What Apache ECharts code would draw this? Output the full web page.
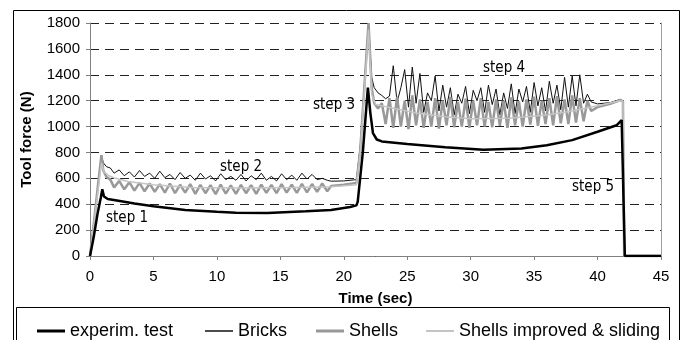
<!DOCTYPE html>
<html>
<head>
<meta charset="utf-8">
<script src="https://cdn.jsdelivr.net/npm/echarts@6/dist/echarts.min.js"></script>
<style>
  html, body { margin: 0; padding: 0; background: #fff; }
  #chart { width: 685px; height: 340px; }
</style>
</head>
<body>
<div id="chart"></div>
<script>
// experimental curve (thick black)
const expTime = [0, 0.3, 0.6, 0.85, 0.97, 1.1, 1.4, 2, 3.5, 5, 7.5, 10, 11.5, 14, 17, 19, 20.5, 21.0, 21.1, 21.5, 21.9, 22.1, 22.3, 22.6, 23, 25, 28, 31, 34, 36, 38, 40, 41.5, 41.9, 42.05, 42.15, 45]
const expForce = [0, 150, 330, 450, 515, 460, 440, 430, 405, 385, 355, 342, 335, 333, 345, 355, 378, 391, 420, 800, 1300, 1100, 950, 900, 885, 865, 840, 820, 830, 855, 895, 960, 1010, 1050, 1040, 0, 0]

// time points shared by "Bricks" and "Shells"
const oscTime = [0, 0.3, 0.6, 0.9, 1.05, 1.3, 1.6,
    1.9, 2.3, 2.7, 3.1, 3.5, 3.9, 4.3, 4.7, 5.1, 5.5, 5.9, 6.3, 6.7, 7.1, 7.5, 7.9, 8.3, 8.7, 9.1, 9.5,
    9.9, 10.3, 10.7, 11.1, 11.5, 11.9, 12.3, 12.7, 13.1, 13.5, 13.9, 14.3, 14.7, 15.1, 15.5, 15.9, 16.3, 16.7,
    17.1, 17.5, 17.9, 18.3, 18.7,
    19.0, 20.0, 21.0, 21.3, 21.95, 22.2, 22.4,
    22.7, 23.0, 23.3, 23.6, 23.9, 24.2, 24.5, 24.8, 25.1, 25.4, 25.7, 26.0, 26.3, 26.6, 26.9, 27.2, 27.5, 27.8,
    28.1, 28.4, 28.7, 29.0, 29.3, 29.6, 29.9, 30.2, 30.5, 30.8, 31.1, 31.4, 31.7, 32.0, 32.3, 32.6, 32.9, 33.2,
    33.5, 33.8, 34.1, 34.4, 34.7, 35.0, 35.3, 35.6, 35.9, 36.2, 36.5, 36.8, 37.1, 37.4, 37.7, 38.0, 38.3, 38.6,
    38.9, 39.2, 39.5,
    40.0, 41.0, 41.8, 42.0, 42.1, 45]

const bricksForce = [0, 250, 520, 780, 720, 690, 680,
    640, 665, 620, 650, 610, 660, 615, 640, 600, 655, 605, 630, 590, 645, 600, 625, 585, 640, 595, 620,
    580, 635, 590, 615, 585, 630, 580, 620, 590, 640, 585, 615, 580, 635, 590, 625, 585, 640,
    595, 630, 590, 600, 585,
    578, 580, 590, 850, 1800, 1380, 1300,
    1260, 1240, 1215, 1235, 1470, 1190, 1300, 1440, 1150, 1460, 1180, 1410, 1110, 1260, 1200, 1390, 1120, 1320,
    1150, 1300, 1090, 1250, 1180, 1310, 1100, 1280, 1200, 1300, 1110, 1320, 1170, 1290, 1090, 1260, 1140, 1330,
    1100, 1290, 1190, 1310, 1110, 1340, 1160, 1300, 1120, 1350, 1180, 1320, 1130, 1380, 1150, 1390, 1160, 1400,
    1180, 1250, 1190,
    1175, 1185, 1210, 1195, 0, 0]

const shellsForce = [0, 250, 520, 780, 660, 610, 590,
    530, 580, 515, 570, 505, 565, 500, 560, 495, 555, 490, 560, 485, 550, 490, 555, 480, 550, 485, 548,
    478, 552, 482, 545, 480, 550, 485, 548, 480, 552, 487, 550, 485, 555, 490, 552, 488, 558,
    492, 556, 495, 560, 500,
    540, 550, 565, 820, 1800, 1300, 1180,
    1140, 1180, 1020, 1220, 990, 1230, 1000, 1200, 980, 1240, 1010, 1210, 990, 1190, 1000, 1220, 985, 1200,
    1010, 1230, 995, 1190, 1000, 1215, 990, 1200, 1010, 1220, 1000, 1190, 995, 1210, 1005, 1200, 990, 1225,
    1010, 1195, 1000, 1210, 1015, 1230, 1005, 1200, 1020, 1220, 1010, 1235, 1025, 1210, 1020, 1240, 1030, 1220,
    1040, 1200, 1120,
    1150, 1175, 1205, 1195, 0, 0]

// shells improved & sliding (thin light gray)
const slidingTime = [0, 0.3, 0.6, 0.9, 1.1, 1.5, 2, 3, 5, 8, 12, 16, 19, 21, 21.3, 21.95, 22.2, 22.5, 24, 26, 28, 30, 33, 36, 38, 40, 41.8, 42.0, 42.1, 45]
const slidingForce = [0, 240, 480, 720, 650, 620, 600, 575, 550, 530, 525, 530, 535, 550, 800, 1750, 1250, 1170, 1140, 1100, 1075, 1060, 1065, 1090, 1120, 1160, 1200, 1195, 0, 0]

const seriesNames = ['experim. test', 'Bricks', 'Shells', 'Shells improved & sliding']
const stepLabels = ['step 1', 'step 2', 'step 3', 'step 4', 'step 5']
const xTicks = { min: 0, max: 45, interval: 5 }
const yTicks = { min: 0, max: 1800, interval: 200 }

function pairs(t, v) {
    return t.map((x, i) => [x, v[i]])
}

const chart = echarts.init(document.getElementById('chart'))

const stepFont = '15px "DejaVu Sans Condensed", "DejaVu Sans", sans-serif'
const stepPos = [[106, 221], [220, 170], [313, 108], [483, 71], [572, 190]]

const lineColors = ['#000', '#111', '#999', '#c4c4c4']
const lineWidths = [2.5, 1, 2.5, 1.5]
const legendLeft = [32, 200, 311, 421]
const legendIconH = [3, 1.5, 3, 2]

const legends = seriesNames.map((n, i) => ({
    left: legendLeft[i],
    top: 317,
    icon: 'rect',
    itemWidth: 28,
    itemHeight: legendIconH[i],
    textStyle: { fontSize: 18, color: '#000' },
    data: [n]
}))

chart.setOption({
    animation: false,
    backgroundColor: '#fff',
    textStyle: { fontFamily: '"Liberation Sans", Arial, sans-serif' },
    grid: { left: 90, right: 24, top: 23, bottom: 84 },
    xAxis: {
        type: 'value',
        min: xTicks.min,
        max: xTicks.max,
        interval: xTicks.interval,
        name: 'Time (sec)',
        nameLocation: 'middle',
        nameGap: 35,
        nameTextStyle: { fontWeight: 'bold', fontSize: 15, color: '#000' },
        axisLine: { show: true, lineStyle: { color: '#808080', width: 1 } },
        axisTick: { show: true, inside: false, length: 4, lineStyle: { color: '#808080' } },
        axisLabel: { fontSize: 15, color: '#000', margin: 13 },
        splitLine: { show: false }
    },
    yAxis: [{
        type: 'value',
        min: yTicks.min,
        max: yTicks.max,
        interval: yTicks.interval,
        name: 'Tool force (N)',
        nameLocation: 'middle',
        nameGap: 56,
        nameTextStyle: { fontWeight: 'bold', fontSize: 15, color: '#000' },
        axisLine: { show: true, lineStyle: { color: '#808080', width: 1 } },
        axisTick: { show: true, length: 4, lineStyle: { color: '#808080' } },
        axisLabel: { fontSize: 15, color: '#000', margin: 10, formatter: v => String(v) },
        splitLine: { show: true, lineStyle: { color: '#222', width: 1, type: [9, 6] } }
    }, {
        type: 'value',
        position: 'right',
        min: yTicks.min,
        max: yTicks.max,
        axisLine: { show: true, lineStyle: { color: '#a0a0a0', width: 1 } },
        axisTick: { show: false },
        axisLabel: { show: false },
        splitLine: { show: false }
    }],
    legend: legends,
    series: [
        { data: pairs(expTime, expForce), z: 5 },
        { data: pairs(oscTime, bricksForce), z: 2 },
        { data: pairs(oscTime, shellsForce), z: 3 },
        { data: pairs(slidingTime, slidingForce), z: 4 }
    ].map((s, i) => ({
        name: seriesNames[i],
        type: 'line',
        symbol: 'none',
        lineStyle: { color: lineColors[i], width: lineWidths[i] },
        itemStyle: { color: lineColors[i] },
        z: s.z,
        data: s.data
    })),
    graphic: [{
        type: 'rect',
        shape: { x: 13.5, y: 10.5, width: 666, height: 345 },
        style: { fill: 'none', stroke: '#000', lineWidth: 1 },
        silent: true
    }, {
        type: 'rect',
        shape: { x: 16.5, y: 307.5, width: 653, height: 45 },
        style: { fill: 'none', stroke: '#000', lineWidth: 1 },
        silent: true
    }].concat(stepLabels.map((s, i) => ({
        type: 'text',
        left: stepPos[i][0],
        top: stepPos[i][1] - 10,
        z: 10,
        style: { text: s, font: stepFont, fill: '#000' },
        silent: true
    })))
})
</script>
</body>
</html>
